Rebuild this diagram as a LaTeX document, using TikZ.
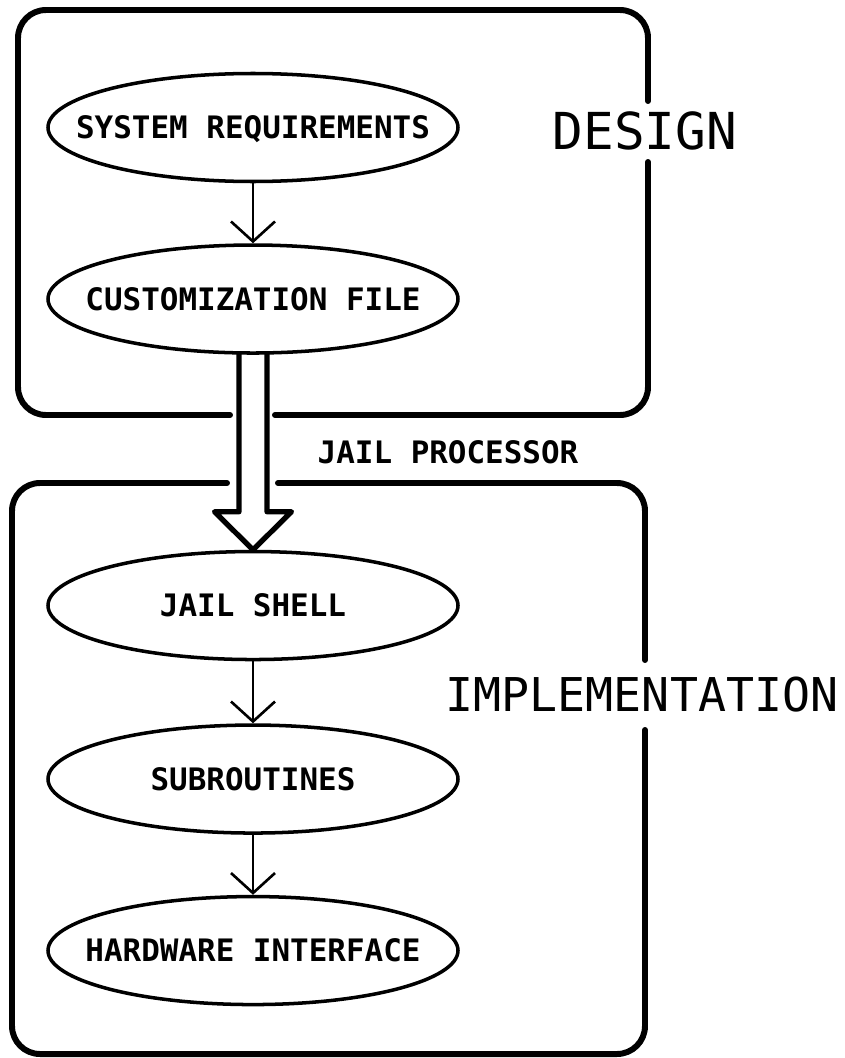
\documentclass[tikz,border=0pt]{standalone}
\usepackage{fontspec}
\newfontfamily\plotfont{DejaVu Sans Mono}
\usetikzlibrary{shapes.geometric,arrows.meta,positioning,calc}
\tikzset{
  stageNode/.style = {ellipse, draw, line width=2pt, minimum width=8.2cm,
                      minimum height=2.16cm, inner sep=0pt,
                      text height=12.8pt, text depth=0pt,
                      font=\plotfont\bfseries\fontsize{17.6pt}{21pt}\selectfont},
  flowArrow/.style = {-{Straight Barb[length=0.4cm, width=0.88cm]}, line width=1.5pt},
  frameBox/.style  = {draw, line width=3.4pt, rounded corners=0.56cm, line cap=round},
  phaseTag/.style  = {inner sep=0pt, font=\plotfont\fontsize{#1}{#1}\selectfont},
  procTag/.style   = {inner sep=0pt, font=\plotfont\bfseries\fontsize{17.6pt}{21pt}\selectfont},
}

\begin{document}
\begin{tikzpicture}[
  hollowArrow/.style={draw, line width=3pt, line join=round}]
  \useasboundingbox (0,0) rectangle (16.9,-21.16);
  \node[stageNode] (sysreq) at (5.06,-2.55) {\makebox[0pt]{SYSTEM REQUIREMENTS}};
  \node[stageNode,below=1.2cm of sysreq] (custfile) {\makebox[0pt]{CUSTOMIZATION FILE}};
  \node[stageNode,below=3.9cm of custfile] (shell) {\makebox[0pt]{JAIL SHELL}};
  \node[stageNode,below=1.24cm of shell] (subr) {\makebox[0pt]{SUBROUTINES}};
  \node[stageNode,below=1.2cm of subr] (hwif) {\makebox[0pt]{HARDWARE INTERFACE}};
  \node[phaseTag=29pt] (design) at (12.9,-2.62) {DESIGN};
  \node[phaseTag=26.5pt] (impl) at (12.84,-13.9) {IMPLEMENTATION};
  \node[procTag] (jailproc) at (8.96,-9.04) {JAIL PROCESSOR};
  \draw[frameBox] (5.5,-8.3) -- (12.96,-8.3) -- (12.96,-3.24)
                  (12.96,-2.02) -- (12.96,-0.2) -- (0.36,-0.2) -- (0.36,-8.3) -- (4.6,-8.3);
  \draw[frameBox] (5.56,-9.66) -- (12.9,-9.66) -- (12.9,-13.2)
                  (12.9,-14.6) -- (12.9,-21.08) -- (0.24,-21.08) -- (0.24,-9.66) -- (4.54,-9.66);
  \draw[flowArrow] (sysreq) -- (custfile);
  \draw[flowArrow] (shell) -- (subr);
  \draw[flowArrow] (subr) -- (hwif);
  \draw[hollowArrow] ($(custfile.south)+(-0.28,0.03)$) -- ($(shell.north)+(-0.28,0.76)$)
      -- ($(shell.north)+(-0.77,0.76)$) -- (shell.north) -- ($(shell.north)+(0.77,0.76)$)
      -- ($(shell.north)+(0.28,0.76)$) -- ($(custfile.south)+(0.28,0.03)$);
\end{tikzpicture}
\end{document}
